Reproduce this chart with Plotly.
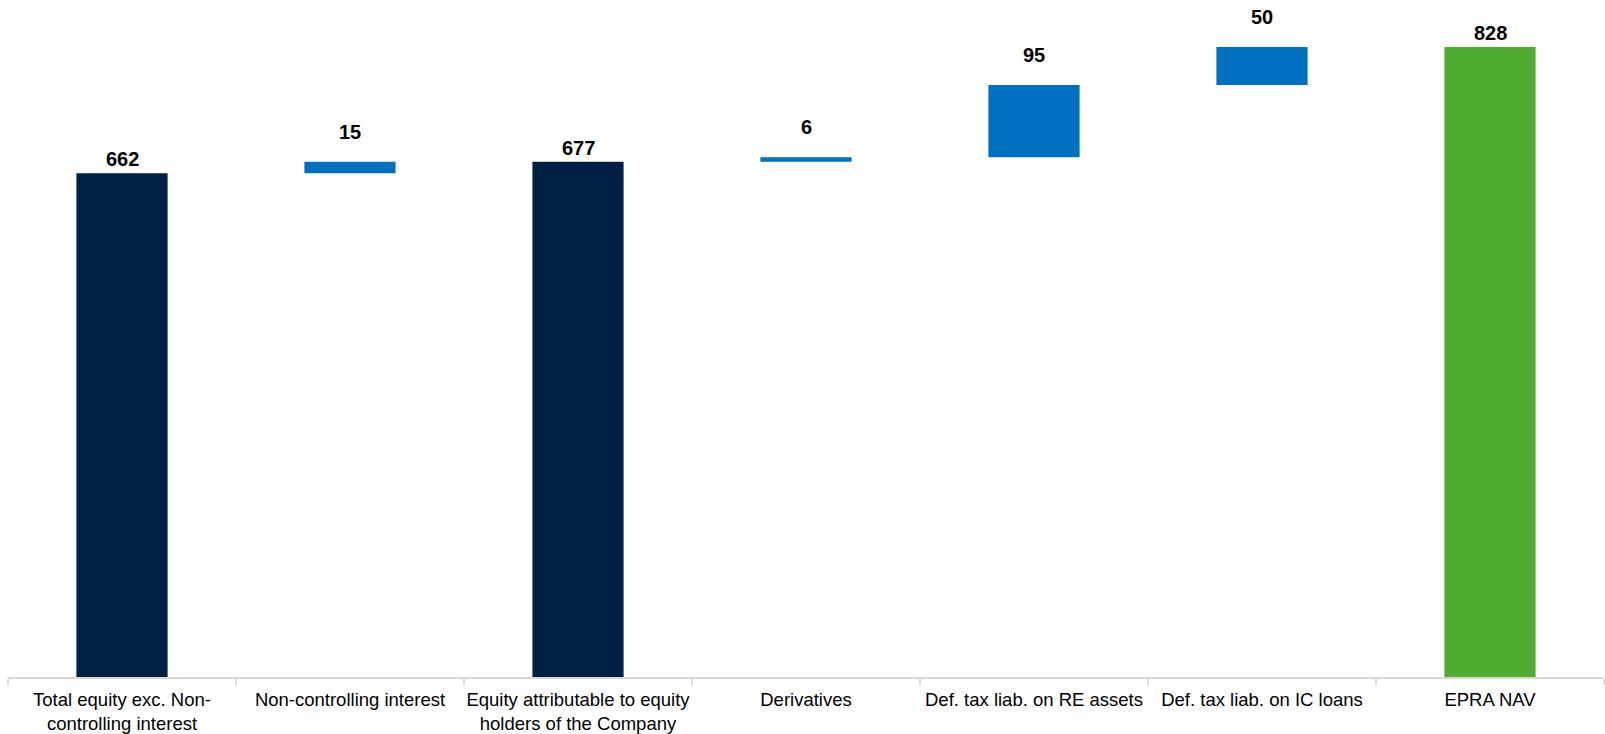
import plotly.graph_objects as go

categories = [
    "Total equity exc. Non-<br>controlling interest",
    "Non-controlling interest",
    "Equity attributable to equity<br>holders of the Company",
    "Derivatives",
    "Def. tax liab. on RE assets",
    "Def. tax liab. on IC loans",
    "EPRA NAV",
]
values = [662, 15, 677, 6, 95, 50, 828]
kinds = ["total", "delta", "total", "delta", "delta", "delta", "total"]

NAVY = "#001F45"
BLUE = "#0070C0"
GREEN = "#4FAD2F"
total_colors = [NAVY, None, NAVY, None, None, None, GREEN]

# compute bases (waterfall)
bases, tops, colors = [], [], []
running = 0
for i, (v, k) in enumerate(zip(values, kinds)):
    if k == "total":
        bases.append(0)
        running = v
        tops.append(v)
        colors.append(total_colors[i])
    else:
        bases.append(running)
        running += v
        tops.append(running)
        colors.append(BLUE)

fig = go.Figure()
fig.add_trace(go.Bar(
    x=categories, y=values, base=bases,
    marker=dict(color=colors, line=dict(width=0)),
    width=0.4, hoverinfo="skip",
))

for c, v, t, k in zip(categories, values, tops, kinds):
    fig.add_annotation(
        x=c, y=t, text=f"<b>{v}</b>", showarrow=False,
        yanchor="middle", yshift=14 if k == "total" else 30,
        font=dict(family="Liberation Sans, Arial", size=20, color="#000000"),
    )

fig.update_layout(
    width=1605, height=734,
    margin=dict(l=8, r=1, t=10, b=57, autoexpand=False),
    paper_bgcolor="white", plot_bgcolor="white",
    showlegend=False,
    bargap=0.6,
    font=dict(family="Liberation Sans, Arial", size=18.5, color="#000000"),
)
fig.update_xaxes(
    type="category", showline=True, linecolor="#D9D9D9", linewidth=2,
    ticks="outside", tickson="boundaries", ticklen=6, tickcolor="#D9D9D9", tickwidth=2,
    showgrid=False, tickfont=dict(size=18.5, color="#000000"),
    ticklabelstandoff=5, tickangle=0, automargin=False,
)
fig.update_yaxes(range=[0, 876.6], visible=False, showgrid=False, zeroline=False)

fig.write_html("out.html")
